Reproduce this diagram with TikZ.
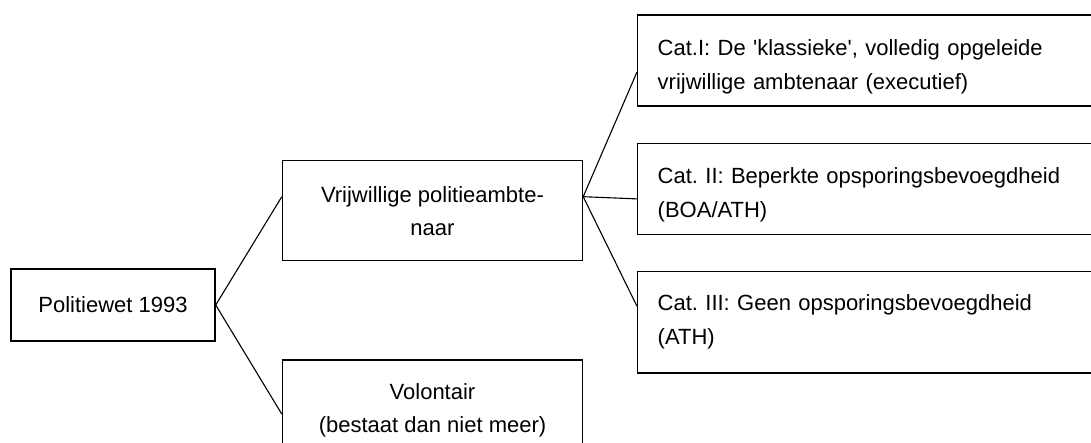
\documentclass[tikz,border=0pt]{standalone}
\usepackage{fontspec}
\setmainfont{Liberation Sans}
\usetikzlibrary{positioning}
\frenchspacing

\newcommand{\topgap}{\rule{0pt}{28pt}}

\tikzset{
  box/.style={draw, line width=1.4pt, minimum width=300pt, minimum height=100pt,
    align=center, inner sep=0pt, font=\fontsize{22}{33}\selectfont},
  catbox/.style={draw, line width=1.4pt, anchor=west, minimum height=91pt,
    text width=433pt, align=left, inner xsep=20pt, inner ysep=0pt,
    font=\fontsize{22}{34}\selectfont},
  link/.style={line width=1.1pt}
}

\begin{document}
\begin{tikzpicture}[x=1pt, y=-1pt]
    \useasboundingbox (0,0) rectangle (1091,443);
    \clip (0,0) rectangle (1091,443);

    % Root
    \node[box, minimum width=204pt, minimum height=72pt] (pw) at (113,305) {Politiewet 1993};

    % Second level
    \node[box] (vr) at (432.5,210.7) {Vrijwillige politieambte-\\naar};
    \node[box, below=98pt of vr] (vo) {Volontair\\(bestaat dan niet meer)};

    % Categories
    \node[catbox] (c1) at (637,60.5) {\topgap Cat.I: De \textquotesingle klassieke\textquotesingle, volledig opgeleide\\vrijwillige ambtenaar (executief)};
    \node[catbox, below=36pt of c1] (c2) {\topgap Cat. II: Beperkte opsporingsbevoegdheid\\(BOA/ATH)};
    \node[catbox, minimum height=101pt, below=36pt of c2] (c3) {Cat. III: Geen opsporingsbevoegdheid\\(ATH)};

    % Connectors
    \draw[link] (pw.east) -- ([yshift=14pt]vr.west);
    \draw[link] (pw.east) -- ([yshift=-4pt]vo.west);
    \draw[link] ([yshift=14pt]vr.east) -- ([yshift=-11.5pt]c1.west);
    \draw[link] ([yshift=14pt]vr.east) -- ([yshift=-10pt]c2.west);
    \draw[link] ([yshift=14pt]vr.east) -- ([yshift=16pt]c3.west);
\end{tikzpicture}
\end{document}
